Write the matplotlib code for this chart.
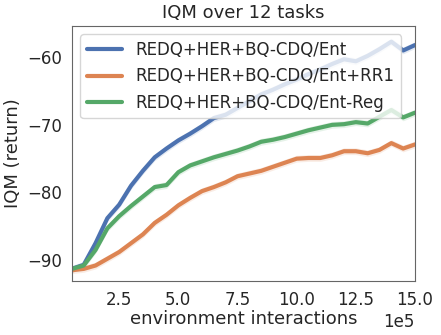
import numpy as np
import matplotlib
matplotlib.use("Agg")
import matplotlib.pyplot as plt
import seaborn as sns

steps = np.arange(1, 31) * 50000

iqm_ent = [-91.3, -90.7, -87.5, -83.8, -81.8, -79.0, -76.8, -74.8, -73.5, -72.3,
           -71.3, -70.2, -69.0, -68.5, -67.5, -66.5, -65.5, -64.8, -64.0, -63.3,
           -62.5, -61.8, -61.0, -60.3, -60.6, -59.8, -58.8, -57.7, -59.0, -58.2]
iqm_rr1 = [-91.5, -91.3, -90.8, -89.8, -88.8, -87.5, -86.2, -84.5, -83.3, -81.9,
           -80.8, -79.8, -79.2, -78.5, -77.6, -77.2, -76.8, -76.2, -75.6, -75.0,
           -74.9, -74.9, -74.5, -73.9, -73.9, -74.2, -73.7, -72.7, -73.5, -72.9]
iqm_reg = [-91.3, -90.8, -88.5, -85.3, -83.5, -82.0, -80.6, -79.2, -78.9, -77.0,
           -76.0, -75.4, -74.8, -74.3, -73.8, -73.2, -72.5, -72.2, -71.8, -71.3,
           -70.8, -70.4, -70.0, -69.9, -69.6, -69.8, -68.8, -67.8, -68.9, -68.2]
ci_width = [0.5, 0.5, 0.5]

labels = ["REDQ+HER+BQ-CDQ/Ent", "REDQ+HER+BQ-CDQ/Ent+RR1", "REDQ+HER+BQ-CDQ/Ent-Reg"]
colors = sns.color_palette("deep")[:3]

sns.set_style("white")
plt.rcParams["font.family"] = ["DejaVu Sans"]

fig = plt.figure(figsize=(4.41, 3.35), dpi=100)
ax = fig.add_axes([0.163, 0.161, 0.778, 0.761])

for ys, lab, c, w in zip([iqm_ent, iqm_rr1, iqm_reg], labels, colors, ci_width):
    ys = np.array(ys)
    ax.plot(steps, ys, color=c, lw=3, label=lab)
    ax.fill_between(steps, ys - w, ys + w, color=c, alpha=0.15, lw=0)

ax.set_xlim(steps[0], steps[-1])
ax.set_ylim(-93.1, -55.4)
ax.set_xticks([250000, 500000, 750000, 1000000, 1250000, 1500000])
ax.set_yticks([-90, -80, -70, -60])
ax.ticklabel_format(axis="x", style="sci", scilimits=(5, 5))
ax.tick_params(labelsize=12)
ax.xaxis.get_offset_text().set_fontsize(12)
ax.set_title("IQM over 12 tasks", fontsize=13)
ax.set_xlabel("environment interactions", fontsize=13, labelpad=1)
ax.set_ylabel("IQM (return)", fontsize=13)
for s in ax.spines.values():
    s.set_color("0.4")
ax.legend(loc="upper left", fontsize=12, handlelength=2.1)

fig.savefig("out.png", dpi=100)
